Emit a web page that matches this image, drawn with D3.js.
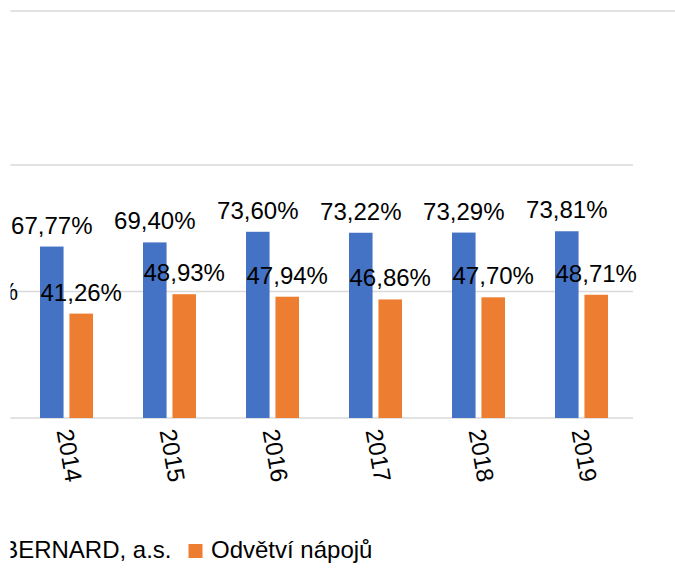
<!DOCTYPE html>
<html>
<head>
<meta charset="utf-8">
<script src="https://cdn.jsdelivr.net/npm/d3@7"></script>
<style>
  body { margin: 0; background: #ffffff; }
  svg { display: block; font-family: "Liberation Sans", Arial, sans-serif; }
</style>
</head>
<body>
<div id="chart"></div>
<script>
// data
var years = ["2014", "2015", "2016", "2017", "2018", "2019"];
var seriesNames = ["BERNARD, a.s.", "Odvětví nápojů"];
var bernard = [0.6777, 0.6940, 0.7360, 0.7322, 0.7329, 0.7381];
var odvetvi = [0.4126, 0.4893, 0.4794, 0.4686, 0.4770, 0.4871];
var gridTicks = [0, 0.5, 1];
var labelTicks = [0.5];
var colors = ["#4472C4", "#ED7D31"];

var W = 675, H = 580;

// number format with a decimal comma
var fmt = function(v) { return (v * 100).toFixed(2).replace(".", ",") + "%"; };

var svg = d3.select("#chart").append("svg")
    .attr("width", W)
    .attr("height", H);

// the picture is cut on its left side
svg.append("defs").append("clipPath")
    .attr("id", "cut")
  .append("rect")
    .attr("x", 10.5).attr("y", 0)
    .attr("width", W).attr("height", H);

var g = svg.append("g").attr("clip-path", "url(#cut)");

var x0 = d3.scaleBand().domain(years).range([15, 633]).padding(0),
    x1 = d3.scaleBand().domain([0, 1]).range([25, 78]).paddingInner(0.2),
    y = d3.scaleLinear().domain([0, 1]).range([418, 165]);

//top border line
g.append("line")
    .attr("x1", 0).attr("x2", W)
    .attr("y1", 11).attr("y2", 11)
    .style("stroke", "#d9d9d9")
    .style("stroke-width", 1.5);

//gridlines
g.selectAll(".grid")
  .data(gridTicks)
  .enter().append("line")
    .attr("class", "grid")
    .attr("x1", 0).attr("x2", x0.range()[1])
    .attr("y1", function(d) { return y(d); })
    .attr("y2", function(d) { return y(d); })
    .style("stroke", "#d9d9d9")
    .style("stroke-width", 1.5);

//y labels (only the end of one shows)
g.selectAll(".ylab")
  .data(labelTicks)
  .enter().append("text")
    .attr("class", "ylab")
    .attr("x", 18)
    .attr("y", function(d) { return y(d); })
    .attr("dy", "0.35em")
    .attr("text-anchor", "end")
    .style("font-size", "24px")
    .style("fill", "#000")
    .text(function(d) { return Math.round(d * 100) + "%"; });

var rows = years.map(function(yr, i) { return { year: yr, vals: [bernard[i], odvetvi[i]] }; });

var groups = g.selectAll(".year")
  .data(rows)
  .enter().append("g")
    .attr("class", "year")
    .attr("transform", function(d) { return "translate(" + x0(d.year) + ",0)"; });

//bars
groups.selectAll("rect")
  .data(function(d) { return d.vals.map(function(v, k) { return { k: k, v: v }; }); })
  .enter().append("rect")
    .attr("x", function(d) { return x1(d.k); })
    .attr("y", function(d) { return y(d.v); })
    .attr("width", x1.bandwidth())
    .attr("height", function(d) { return y(0) - y(d.v); })
    .style("fill", function(d) { return colors[d.k]; });

//value labels
groups.selectAll(".val")
  .data(function(d) { return d.vals.map(function(v, k) { return { k: k, v: v }; }); })
  .enter().append("text")
    .attr("class", "val")
    .attr("x", function(d) { return x1(d.k) + x1.bandwidth() / 2; })
    .attr("y", function(d) { return y(d.v) - 13; })
    .attr("text-anchor", "middle")
    .style("font-size", "24px")
    .style("fill", "#000")
    .text(function(d) { return fmt(d.v); });

//year labels, turned and a bit slanted
g.selectAll(".xlab")
  .data(years)
  .enter().append("text")
    .attr("class", "xlab")
    .attr("transform", function(d) {
      return "translate(" + (x0(d) + x0.bandwidth() / 2 + 3) + ",455.5) rotate(80)";
    })
    .attr("dy", "0.35em")
    .attr("text-anchor", "middle")
    .style("font-size", "24px")
    .style("fill", "#000")
    .text(function(d) { return d; });

//legend
var legX = [-14, 188.5];
var leg = g.selectAll(".leg")
  .data(seriesNames)
  .enter().append("g")
    .attr("class", "leg")
    .attr("transform", function(d, i) { return "translate(" + legX[i] + ",544)"; });

leg.append("rect")
    .attr("width", 14).attr("height", 14)
    .style("fill", function(d, i) { return colors[i]; });

leg.append("text")
    .attr("x", function(d, i) { return i === 0 ? 185.5 : 22.5; })
    .attr("y", 14)
    .attr("text-anchor", function(d, i) { return i === 0 ? "end" : "start"; })
    .style("font-size", "24px")
    .style("fill", "#000")
    .text(function(d) { return d; });
</script>
</body>
</html>
